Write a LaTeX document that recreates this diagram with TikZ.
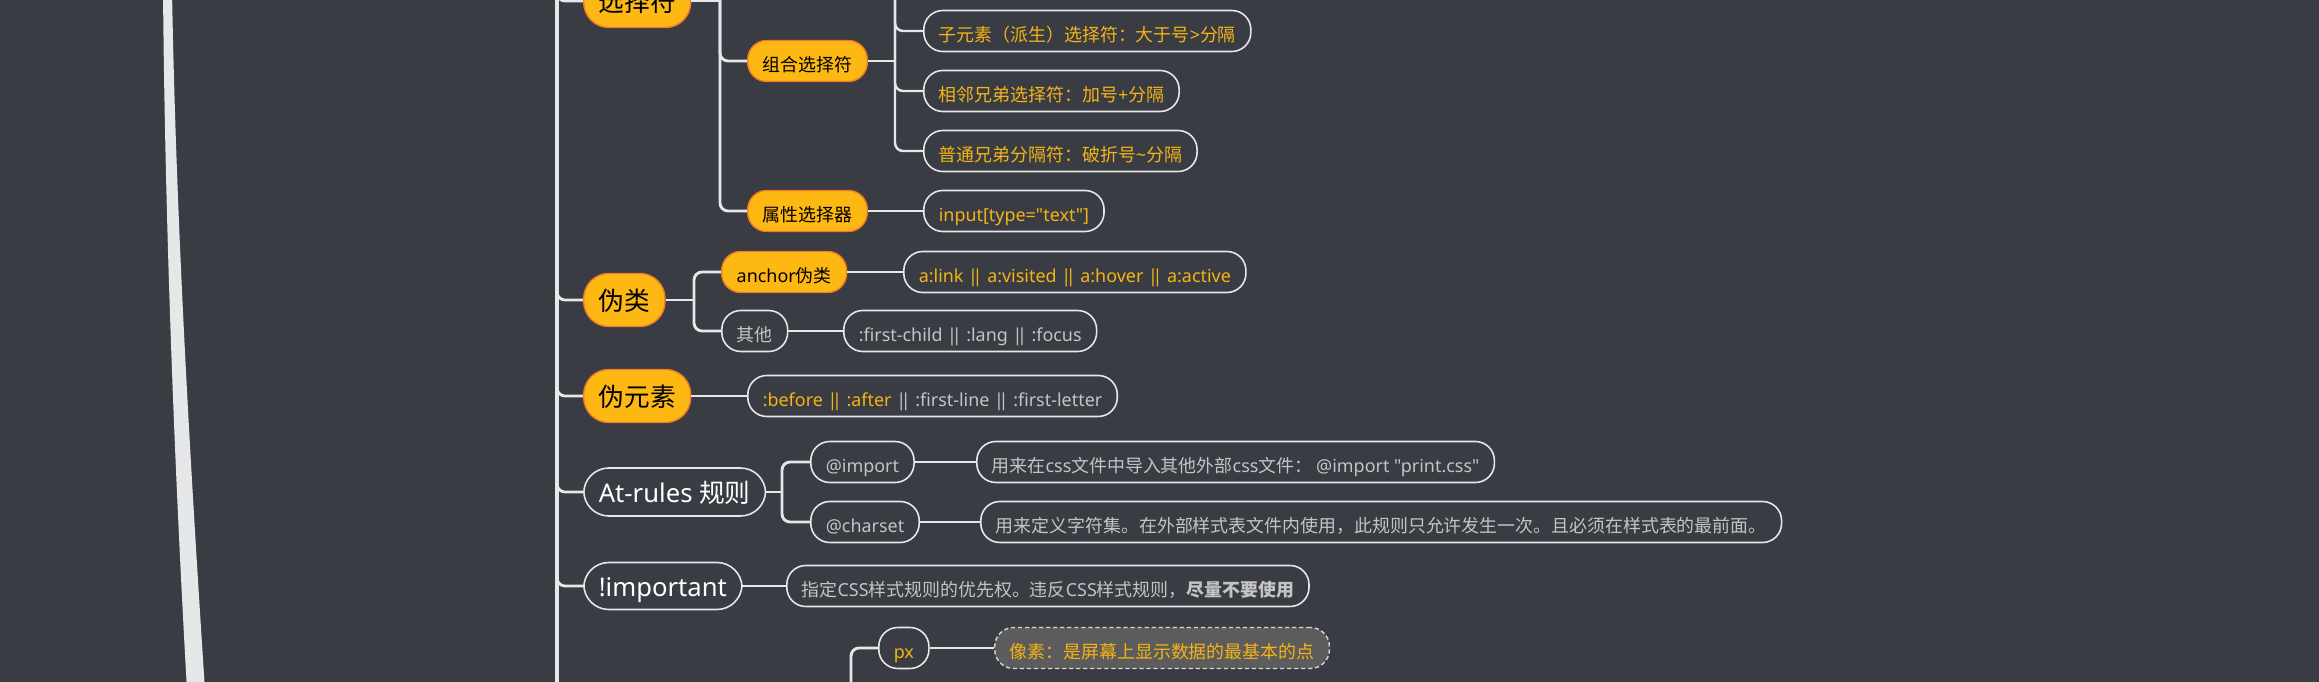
\documentclass[tikz,border=0pt]{standalone}
\usepackage{fontspec}
\setmainfont{Noto Sans}
\newfontfamily\lat{Noto Sans}
\newfontfamily\cjk{Noto Sans CJK SC}
% switch to the CJK face on Chinese characters
\XeTeXinterchartokenstate=1
\makeatletter
\count@="3000 \loop\XeTeXcharclass\count@=1 \advance\count@ by 1 \ifnum\count@<"3040 \repeat
\count@="4E00 \loop\XeTeXcharclass\count@=1 \advance\count@ by 1 \ifnum\count@<"A000 \repeat
\count@="FF00 \loop\XeTeXcharclass\count@=1 \advance\count@ by 1 \ifnum\count@<"FF60 \repeat
\makeatother
\XeTeXinterchartoks 0 1 = {\cjk}
\XeTeXinterchartoks 4095 1 = {\cjk}
\XeTeXinterchartoks 1 0 = {\lat}
\XeTeXinterchartoks 4095 0 = {\lat}
\newcommand{\bars}{|\kern-0.3em|}
\definecolor{bg}{HTML}{393C42}
\definecolor{lineclr}{HTML}{E6E7E9}
\definecolor{orangefill}{HTML}{FDB813}
\definecolor{orangeline}{HTML}{F07A2A}
\definecolor{orangetext}{HTML}{F5B416}
\definecolor{graytext}{HTML}{C4C4C4}
\definecolor{notefill}{HTML}{5C5C5C}
\begin{document}
\begin{tikzpicture}
		\tikzset{big/.style = {anchor=west, rectangle, rounded corners=0.25cm, minimum height=0.53cm, inner xsep=0.15cm, inner ysep=0pt, text height=0.8em, text depth=0.2em, font=\fontsize{7.3}{9}\selectfont}}
		\tikzset{small/.style = {big, rounded corners=0.19cm, minimum height=0.41cm, font=\fontsize{5.1}{6}\selectfont}}
		\tikzset{fill1/.style = {fill=orangefill, draw=orangeline, line width=0.4pt, text=black}}
		\tikzset{line1/.style = {draw=lineclr, line width=0.45pt}}
		\tikzset{edge/.style = {lineclr, line width=0.8pt, rounded corners=0.08cm}}
		
		\useasboundingbox (0,0) rectangle (23.19,-6.82);
		\fill[bg] (0,0) rectangle (23.19,-6.82);
		\clip (0,0) rectangle (23.19,-6.82);
		
		% branch coming from the root
		\fill[lineclr] (1.63,0.1) .. controls (1.65,-2.2) and (1.74,-4.6) .. (1.87,-6.9)
		  -- (2.05,-6.9) .. controls (1.90,-4.6) and (1.76,-2.2) .. (1.72,0.1) -- cycle;
		
		\node[big, fill1]              (1) at (5.83, -0.01) {选择符};
		\node[big, fill1]              (2) at (5.83, -3.00) {伪类};
		\node[big, fill1]              (3) at (5.83, -3.96) {伪元素};
		\node[big, line1, text=white, minimum height=0.48cm] (4) at (5.83, -4.92) {At-rules 规则};
		\node[big, line1, text=white, minimum height=0.47cm] (5) at (5.83, -5.86) {!important};
		
		\node[small, fill1]            (6) at (7.47, -0.61) {组合选择符};
		\node[small, fill1]            (7) at (7.47, -2.11) {属性选择器};
		\node[small, line1, text=orangetext]  (8) at (9.23, -0.31) {子元素（派生）选择符：大于号>分隔};
		\node[small, line1, text=orangetext]  (9) at (9.23, -0.91) {相邻兄弟选择符：加号+分隔};
		\node[small, line1, text=orangetext] (10) at (9.23, -1.51) {普通兄弟分隔符：破折号\textasciitilde 分隔};
		\node[small, line1, text=orangetext] (11) at (9.23, -2.11) {input[type="text"]};
		
		\node[small, fill1]           (12) at (7.21, -2.72) {anchor伪类};
		\node[small, line1, text=graytext]   (13) at (7.21, -3.31) {其他};
		\node[small, line1, text=orangetext] (14) at (9.03, -2.72) {a:link \bars{} a:visited \bars{} a:hover \bars{} a:active};
		\node[small, line1, text=graytext]   (15) at (8.43, -3.31) {:first-child \bars{} :lang \bars{} :focus};
		
		\node[small, line1, text=graytext]   (16) at (7.47, -3.96) {{\color{orangetext}:before \bars{} :after} \bars{} :first-line \bars{} :first-letter};
		
		\node[small, line1, text=graytext]   (17) at (8.10, -4.62) {@import};
		\node[small, line1, text=graytext]   (18) at (8.10, -5.22) {@charset};
		\node[small, line1, text=graytext]   (19) at (9.76, -4.62) {用来在css文件中导入其他外部css文件： @import "print.css"};
		\node[small, line1, text=graytext]   (20) at (9.80, -5.22) {用来定义字符集。在外部样式表文件内使用，此规则只允许发生一次。且必须在样式表的最前面。};
		
		\node[small, line1, text=graytext]   (21) at (7.86, -5.86) {指定CSS样式规则的优先权。违反CSS样式规则，\textbf{尽量不要使用}};
		
		\node[small, line1, text=orangetext] (22) at (8.78, -6.48) {px};
		\node[small, fill=notefill, draw=graytext!70, dash pattern=on 1.2pt off 0.8pt, line width=0.4pt, text=orangetext] (23) at (9.94, -6.48) {像素：是屏幕上显示数据的最基本的点};
		
		\coordinate (t0) at (5.57,  0.50);
		\coordinate (t1) at (5.57, -7.20);
		\coordinate (s1) at (7.20,  0.50);
		\coordinate (s2) at (8.95,  0.50);
		\coordinate (s3) at (6.94, -3.00);
		\coordinate (s4) at (7.82, -4.92);
		\coordinate (s5) at (8.51, -7.20);
		
		\draw[edge, line width=1pt] (t0) to (t1);
		\draw[edge] (t0) |- (1.west);
		\draw[edge] (t0) |- (2.west);
		\draw[edge] (t0) |- (3.west);
		\draw[edge] (t0) |- (4.west);
		\draw[edge] (t0) |- (5.west);
		
		\draw[edge] (1.east) -- (1.east -| s1);
		\draw[edge] (s1) |- (6.west);
		\draw[edge] (s1) |- (7.west);
		\draw[edge] (6.east) -- (6.east -| s2);
		\draw[edge, line width=0.7pt] (s2) |- (8.west);
		\draw[edge, line width=0.7pt] (s2) |- (9.west);
		\draw[edge, line width=0.7pt] (s2) |- (10.west);
		\draw[edge, line width=0.7pt] (7.east) -- (11.west);
		
		\draw[edge] (2.east) -- (s3);
		\draw[edge] (s3) |- (12.west);
		\draw[edge] (s3) |- (13.west);
		\draw[edge, line width=0.7pt] (12.east) -- (14.west);
		\draw[edge, line width=0.7pt] (13.east) -- (15.west);
		
		\draw[edge] (3.east) -- (16.west);
		
		\draw[edge] (4.east) -- (s4);
		\draw[edge] (s4) |- (17.west);
		\draw[edge] (s4) |- (18.west);
		\draw[edge, line width=0.7pt] (17.east) -- (19.west);
		\draw[edge, line width=0.7pt] (18.east) -- (20.west);
		
		\draw[edge] (5.east) -- (21.west);
		
		\draw[edge] (s5) |- (22.west);
		\draw[edge, line width=0.7pt] (22.east) -- (23.west);
		\end{tikzpicture}
\end{document}
